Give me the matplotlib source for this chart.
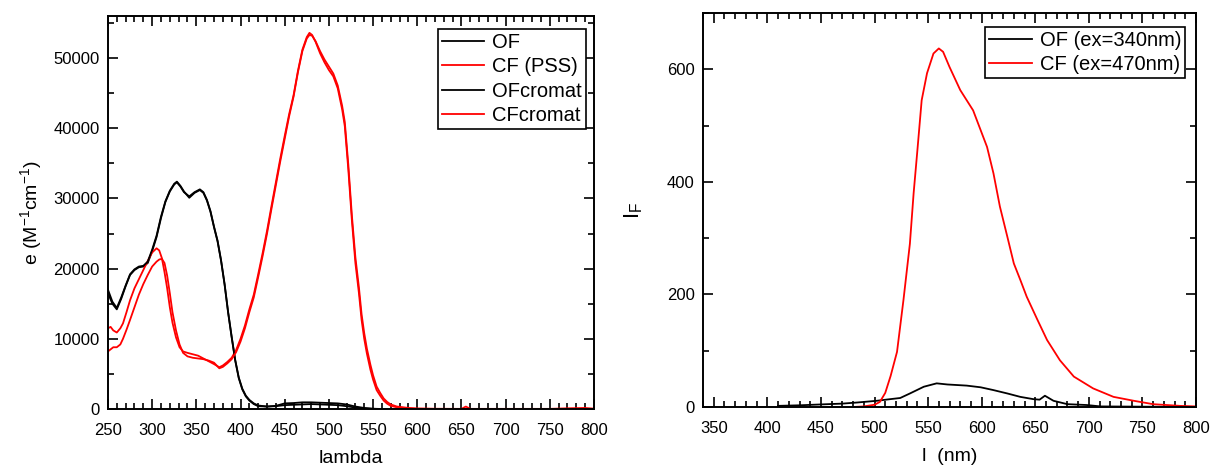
import matplotlib
matplotlib.use('Agg')
import matplotlib.pyplot as plt
from matplotlib.ticker import MultipleLocator

plt.rcParams['font.family'] = ['Liberation Sans', 'DejaVu Sans']
plt.rcParams['mathtext.fontset'] = 'custom'
plt.rcParams['mathtext.rm'] = 'Liberation Sans'
plt.rcParams['mathtext.it'] = 'Liberation Sans:italic'

# ---- absorption (left) ----
wl_of = [250, 255, 260, 265, 270, 275, 280, 285, 290, 295, 300, 305, 310, 315, 320, 325,
         328, 332, 336, 342, 348, 354, 358, 362, 366, 370, 374, 378, 382, 386, 390, 394,
         398, 402, 406, 410, 415, 420, 430, 440, 450, 460, 470, 480, 490, 500, 510, 520,
         530, 540, 550, 560, 600, 650, 700, 750, 800]
of = [16500, 15000, 14200, 15700, 17500, 19100, 19800, 20200, 20300, 20800, 22500, 24500,
      27200, 29500, 31000, 32000, 32300, 31700, 30900, 30300, 30900, 31300, 30900, 29800,
      28200, 26000, 24000, 21200, 17800, 13800, 10300, 7000, 4500, 2900, 1900, 1300, 800,
      500, 350, 400, 550, 600, 650, 700, 650, 600, 550, 400, 200, 80, 20, 0, 0, 0, 0, 0, 0]
of_cromat = [17000, 15300, 14400, 15900, 17600, 19200, 19900, 20300, 20400, 21000, 22700,
             24700, 27400, 29600, 31100, 32100, 32400, 31800, 31000, 30100, 30800, 31200,
             30800, 29700, 28100, 25900, 23900, 21100, 17700, 13700, 10200, 6900, 4400,
             2800, 1800, 1200, 700, 400, 350, 450, 800, 850, 950, 950, 900, 850, 800, 650,
             350, 150, 40, 0, 0, 0, 0, 0, 0]

wl_cf = [250, 253, 256, 260, 264, 267, 271, 275, 280, 285, 290, 295, 300, 305, 308, 311,
         314, 317, 320, 323, 327, 331, 335, 340, 346, 352, 358, 364, 370,
         376, 380, 385, 390, 395, 400, 405, 410, 415, 420, 425, 430, 435, 440, 445, 450,
         455, 460, 465, 470, 475, 478, 481, 485, 490, 495, 500, 505, 510, 515, 518, 522,
         526, 530, 534, 537, 540, 543, 547, 550, 554, 558, 562, 566, 570, 577, 590, 600,
         620, 650, 655, 660, 700, 750, 770, 790, 800]
cf_pss = [11500, 11700, 11200, 10900, 11500, 12200, 13800, 15500, 17200, 18500, 19800,
          21100, 22300, 22900, 22600, 21500, 19500, 17200, 14500, 12300, 10200, 8800, 8200,
          8000, 7800, 7600, 7200, 6800, 6400,
          5950, 6200, 6700, 7300, 8400, 10000, 11900, 14200, 16300, 19200, 22200, 25400,
          28900, 32300, 35700, 38900, 42000, 44700, 48200, 51200, 53000, 53600, 53300,
          52300, 50700, 49400, 48300, 47400, 45700, 42700, 40300, 34100, 26900, 20800,
          16500, 12700, 10000, 7900, 5600, 4200, 2700, 1900, 1200, 750, 450, 240, 100, 50,
          30, 20, 350, 20, 20, 20, 100, 150, 50]
cf_cromat = [8200, 8500, 8800, 8800, 9200, 10000, 11300, 12700, 14500, 16300, 17800,
             19100, 20300, 21000, 21300, 21400, 20800, 19000, 16500, 13800, 11200, 9200,
             8000, 7500, 7300, 7200, 7100, 6900, 6600,
             5800, 6000, 6500, 7100, 8100, 9600, 11500, 13800, 15900, 18800, 21800, 25000,
             28500, 31900, 35300, 38500, 41700, 44500, 48000, 51000, 52800, 53300, 53200,
             52400, 51000, 49800, 48800, 47800, 46100, 43200, 40900, 34800, 27600, 21600,
             17300, 13500, 10800, 8600, 6300, 4800, 3200, 2300, 1500, 1000, 650, 350, 150, 60,
             20, 10, 10, 10, 10, 10, 10, 10, 10]

# ---- fluorescence (right) ----
wl_em_of = [410, 430, 456, 470, 484, 502, 515, 524, 533, 546, 558, 568, 586, 599, 611, 624,
            636, 648, 654, 659, 667, 680, 698, 711, 800]
em_of = [2, 3, 5, 6, 8, 11, 14, 16, 24, 36, 42, 40, 38, 35, 30, 24, 18, 14, 13, 20, 11, 5,
         3.5, 1, 0]
wl_em_cf = [480, 490, 500, 505, 510, 515, 521, 527, 533, 536.5, 540, 544, 549, 555, 560,
            564, 570, 580, 586, 592, 599, 605, 611, 617, 624, 630, 636, 642, 652, 661, 673,
            686, 704, 723, 742, 760, 785, 800]
em_cf = [0, 1, 4, 9, 25, 55, 98, 190, 290, 380, 456, 545, 593, 628, 637, 631, 604, 563, 545,
         527, 492, 462, 415, 356, 302, 255, 226, 196, 155, 119, 83, 54, 33, 18, 11, 5, 2, 1]

fig = plt.figure(figsize=(12.13, 4.67), dpi=100)
ax1 = fig.add_axes([0.0890, 0.1242, 0.4007, 0.8415])
ax2 = fig.add_axes([0.5796, 0.1285, 0.4064, 0.8437])

lw = 1.3
ax1.plot(wl_of, of, color='black', lw=lw, label='OF')
ax1.plot(wl_cf, cf_pss, color='red', lw=lw, label='CF (PSS)')
ax1.plot(wl_of, of_cromat, color='black', lw=lw, label='OFcromat')
ax1.plot(wl_cf, cf_cromat, color='red', lw=lw, label='CFcromat')
ax1.set_xlim(250, 800)
ax1.set_ylim(0, 56000)
ax1.xaxis.set_major_locator(MultipleLocator(50))
ax1.xaxis.set_minor_locator(MultipleLocator(10))
ax1.yaxis.set_major_locator(MultipleLocator(10000))
ax1.yaxis.set_minor_locator(MultipleLocator(5000))
ax1.set_xlabel('lambda', fontsize=14, labelpad=9)
ax1.set_ylabel(r'e (M$^{\mathregular{-1}}$cm$^{\mathregular{-1}}$)', fontsize=14, labelpad=7)

ax2.plot(wl_em_of, em_of, color='black', lw=lw, label='OF (ex=340nm)')
ax2.plot(wl_em_cf, em_cf, color='red', lw=lw, label='CF (ex=470nm)')
ax2.set_xlim(340, 800)
ax2.set_ylim(0, 700)
ax2.xaxis.set_major_locator(MultipleLocator(50))
ax2.xaxis.set_minor_locator(MultipleLocator(10))
ax2.yaxis.set_major_locator(MultipleLocator(200))
ax2.yaxis.set_minor_locator(MultipleLocator(100))
ax2.set_xlabel('l  (nm)', fontsize=14, labelpad=9)
ax2.set_ylabel(r'I$_{\mathregular{F}}$', fontsize=16, labelpad=16)

legend_anchor = {ax1: (0.983, 0.967), ax2: (0.978, 0.965)}
for ax in (ax1, ax2):
    ax.tick_params(which='both', direction='in', top=True, right=True, labelsize=12,
                   width=1.2, pad=6)
    ax.tick_params(axis='x', which='both', pad=10)
    ax.tick_params(which='major', length=7)
    ax.tick_params(which='minor', length=4)
    for s in ax.spines.values():
        s.set_linewidth(1.4)
    leg = ax.legend(loc='upper right', bbox_to_anchor=legend_anchor[ax], fontsize=14.5,
                    frameon=True, fancybox=False, edgecolor='black', framealpha=1,
                    handlelength=2.1, labelspacing=0.27, borderpad=0.2, handletextpad=0.4,
                    borderaxespad=0)
    leg.get_frame().set_linewidth(1.2)

fig.savefig('out.png', dpi=100)
